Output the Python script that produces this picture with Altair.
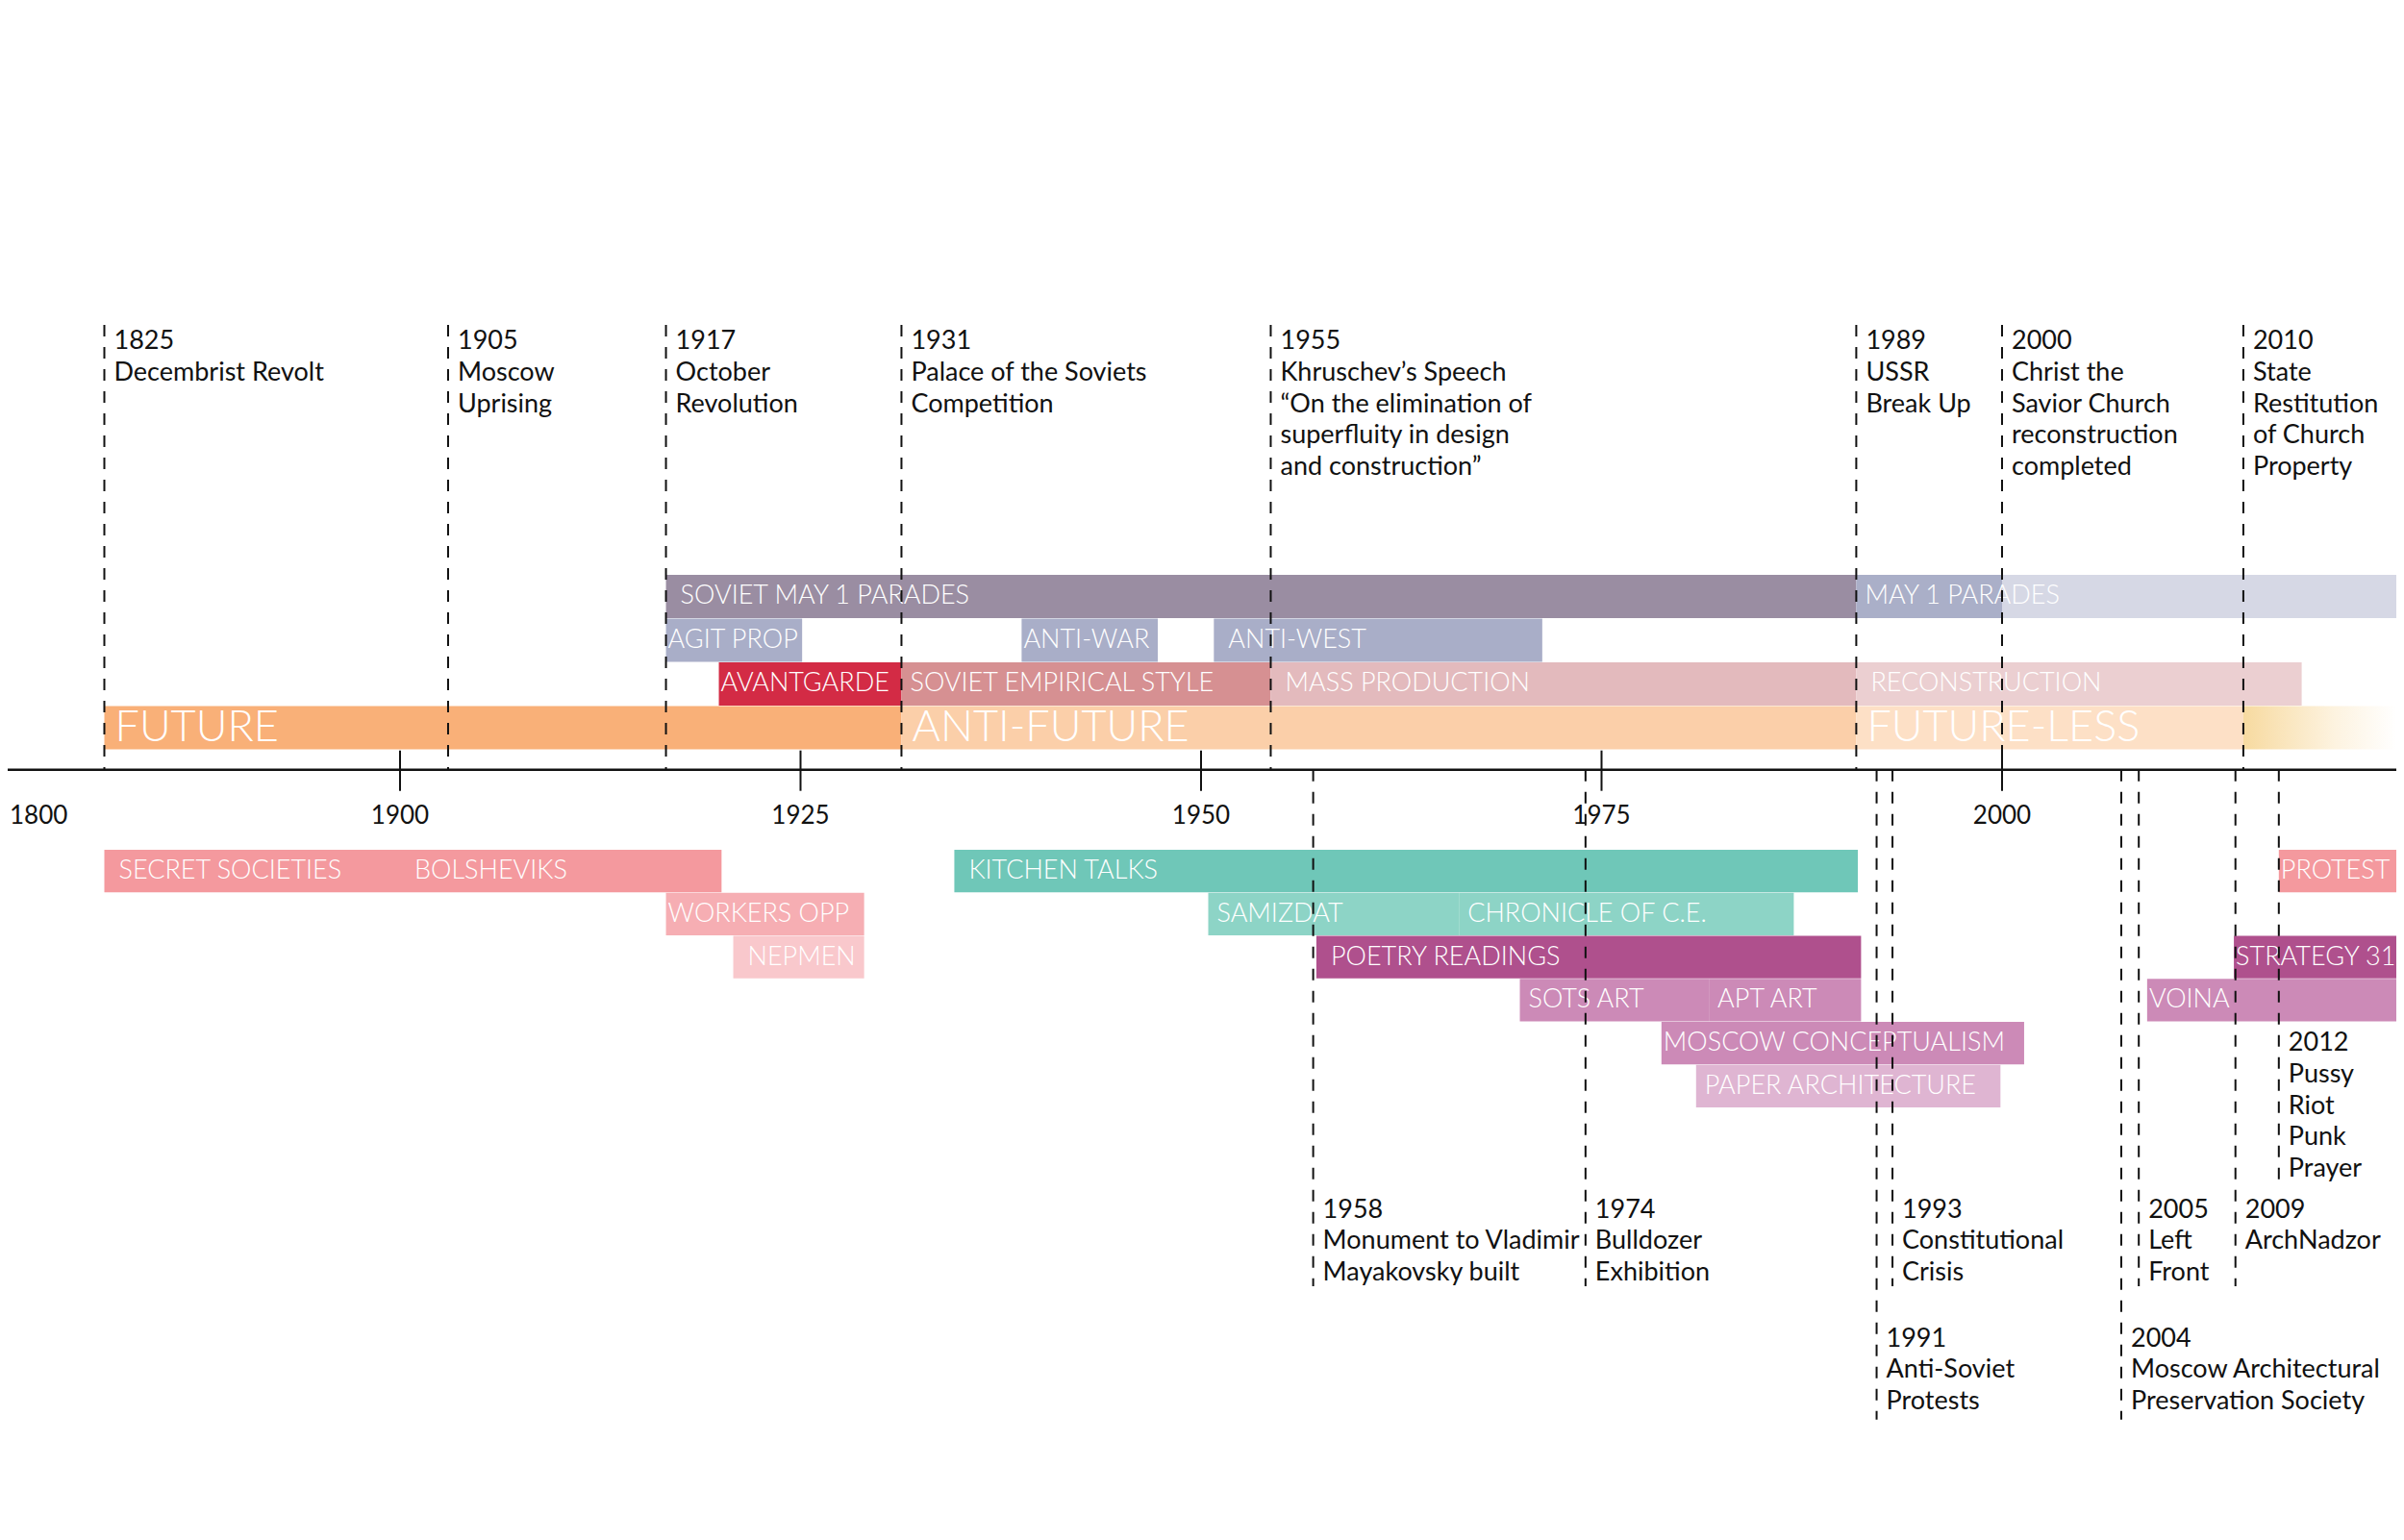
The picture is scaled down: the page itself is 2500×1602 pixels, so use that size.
import altair as alt
import pandas as pd

# ---------------- data (x values are positions on the chart's year axis) ----------------
# bars above the axis, lane 1 = next to the axis
up_label = ["SOVIET MAY 1 PARADES", "MAY 1 PARADES", "", "AGIT PROP", "ANTI-WAR", "ANTI-WEST",
            "AVANTGARDE", "SOVIET EMPIRICAL STYLE", "MASS PRODUCTION", "RECONSTRUCTION",
            "FUTURE", "ANTI-FUTURE", "FUTURE-LESS"]
up_start = [1916.6, 1990.9, 2000.0, 1916.6, 1938.8, 1950.8,
            1919.9, 1931.3, 1954.35, 1990.9,
            1825.0, 1931.3, 1990.9]
up_end = [1990.9, 2000.0, 2025.0, 1925.1, 1947.3, 1971.3,
          1931.3, 1954.35, 1990.9, 2019.0,
          1931.3, 1990.9, 2015.3]
up_lane = [4, 4, 4, 3, 3, 3, 2, 2, 2, 2, 1, 1, 1]
up_group = ["parades", "parades_late", "parades_now", "propaganda", "propaganda", "propaganda",
            "avantgarde", "empire", "mass", "reconstruction",
            "future", "antifuture", "futureless"]

# fading tail of the FUTURE row
tail_start = [2015.3]
tail_end = [2025.0]

# bars below the axis, lane 1 = next to the axis
dn_label = ["SECRET SOCIETIES", "BOLSHEVIKS", "KITCHEN TALKS", "PROTEST",
            "WORKERS OPP", "SAMIZDAT", "CHRONICLE OF C.E.",
            "NEPMEN", "POETRY READINGS", "STRATEGY 31",
            "SOTS ART", "APT ART", "VOINA",
            "MOSCOW CONCEPTUALISM", "PAPER ARCHITECTURE"]
dn_start = [1825.0, 1900.0, 1934.6, 2017.55,
            1916.6, 1950.45, 1966.1,
            1920.8, 1957.2, 2014.7,
            1969.9, 1981.7, 2009.2,
            1978.74, 1980.9]
dn_end = [1900.0, 1920.07, 1991.0, 2025.0,
          1928.97, 1966.1, 1987.0,
          1928.97, 1991.2, 2025.0,
          1981.7, 1991.2, 2025.0,
          2001.4, 1999.9]
dn_lane = [1, 1, 1, 1, 2, 2, 2, 3, 3, 3, 4, 4, 4, 5, 6]
dn_group = ["dissent", "dissent", "kitchen", "dissent",
            "workers", "samizdat", "samizdat",
            "nepmen", "poetry", "poetry",
            "art", "art", "art",
            "art", "paper"]

# events above the axis
top_pos = [1825.0, 1903.0, 1916.6, 1931.3, 1954.35, 1990.9, 2000.0, 2015.3]
top_text = ["1825\nDecembrist Revolt",
            "1905\nMoscow\nUprising",
            "1917\nOctober\nRevolution",
            "1931\nPalace of the Soviets\nCompetition",
            "1955\nKhruschev\u2019s Speech\n\u201cOn the elimination of\nsuperfluity in design\nand construction\u201d",
            "1989\nUSSR\nBreak Up",
            "2000\nChrist the\nSavior Church\nreconstruction\ncompleted",
            "2010\nState\nRestitution\nof Church\nProperty"]

# events below the axis (tier: how far down the label sits)
bot_pos = [1957.0, 1974.0, 1992.17, 1993.16, 2007.56, 2008.67, 2014.8, 2017.55]
bot_text = ["1958\nMonument to Vladimir\nMayakovsky built",
            "1974\nBulldozer\nExhibition",
            "1991\nAnti-Soviet\nProtests",
            "1993\nConstitutional\nCrisis",
            "2004\nMoscow Architectural\nPreservation Society",
            "2005\nLeft\nFront",
            "2009\nArchNadzor",
            "2012\nPussy\nRiot\nPunk\nPrayer"]
bot_tier = [1, 1, 2, 1, 2, 1, 1, 0]

# axis
tick_years = [1900, 1925, 1950, 1975, 2000]
tick_text = ["1900", "1925", "1950", "1975", "2000"]
first_year = [1800]
first_text = ["1800"]

# ---------------- styles / layout ----------------
groups = ["parades", "parades_late", "parades_now", "propaganda", "avantgarde", "empire", "mass",
          "reconstruction", "future", "antifuture", "futureless", "dissent", "workers", "nepmen",
          "kitchen", "samizdat", "poetry", "art", "paper"]
colors = ["#9a8da2", "#aaafc8", "#d6d8e5", "#a9aec8", "#d32b45", "#d69092", "#e3babd",
          "#ebcfd1", "#f9b078", "#fbcfa9", "#fde0c6", "#f4999e", "#f6aeb3", "#f9c8cc",
          "#6fc7b8", "#8dd4c6", "#af508d", "#cc8ab7", "#dfb5d2"]

# how far each bar label sits from the bar's start
TIGHT = ["AGIT PROP", "ANTI-WAR", "AVANTGARDE", "MOSCOW CONCEPTUALISM", "VOINA",
         "WORKERS OPP", "PROTEST", "STRATEGY 31"]
MID = ["MAY 1 PARADES", "SOVIET EMPIRICAL STYLE", "SAMIZDAT", "CHRONICLE OF C.E.",
       "SOTS ART", "APT ART", "PAPER ARCHITECTURE"]
PAD = {"tight": 2, "mid": 9, "wide": 15}

W, H = 2484, 1590
AXIS_Y = 792.7
UP_BASE, UP_PITCH = 772.0, 45.5
DN_BASE, DN_PITCH = 876.0, 44.75
GAP = 0.6
TOP_LINE_Y = 330.0
TOP_TEXT_Y = 355.3
TIER = {0: (1218.7, 1085.3), 1: (1330.0, 1258.7), 2: (1468.7, 1392.7)}
FONT = "Lato"

X = alt.Scale(domain=[1800, 1900, 2000, 2025], range=[-2, 408, 2074, 2484], nice=False, zero=False)
Y = alt.Scale(domain=[0, H], range=[0, H], nice=False, zero=False)


def xenc(field):
    return alt.X(field, type="quantitative", scale=X, axis=None)


def yenc(field):
    return alt.Y(field, type="quantitative", scale=Y, axis=None)


# ---------------- tables ----------------
up = pd.DataFrame({"label": up_label, "start": up_start, "end": up_end,
                   "lane": up_lane, "group": up_group})
up["y0"] = UP_BASE - up["lane"] * UP_PITCH
up["y1"] = UP_BASE - (up["lane"] - 1) * UP_PITCH - GAP
up["big"] = up["lane"] == 1

dn = pd.DataFrame({"label": dn_label, "start": dn_start, "end": dn_end,
                   "lane": dn_lane, "group": dn_group})
dn["y0"] = DN_BASE + (dn["lane"] - 1) * DN_PITCH
dn["y1"] = dn["y0"] + DN_PITCH - GAP
dn["big"] = False

bars = pd.concat([up, dn], ignore_index=True)
bars["mid"] = (bars["y0"] + bars["y1"]) / 2
bars["ty"] = bars["mid"] + bars["big"].map({True: 14.0, False: 8.0})
bars["padcls"] = bars["label"].map(
    lambda s: "tight" if s in TIGHT else ("mid" if s in MID else "wide"))

tail = pd.DataFrame({"start": tail_start, "end": tail_end})
tail["y0"] = UP_BASE - UP_PITCH
tail["y1"] = UP_BASE - GAP

top_ev = pd.DataFrame({"pos": top_pos, "text": top_text})
top_ev["ya"] = TOP_LINE_Y
top_ev["yb"] = AXIS_Y
top_ev["ty"] = TOP_TEXT_Y

bot_ev = pd.DataFrame({"pos": bot_pos, "text": bot_text, "tier": bot_tier})
bot_ev["ya"] = AXIS_Y
bot_ev["yb"] = bot_ev["tier"].map(lambda t: TIER[t][0])
bot_ev["ty"] = bot_ev["tier"].map(lambda t: TIER[t][1])

events = pd.concat([top_ev, bot_ev[["pos", "text", "ya", "yb", "ty"]]], ignore_index=True)

axis_df = pd.DataFrame({"a": [1800], "b": [2025], "y": [AXIS_Y]})
ticks = pd.DataFrame({"year": tick_years, "text": tick_text})
ticks["ya"] = AXIS_Y - 20
ticks["yb"] = AXIS_Y + 22
ticks["ty"] = AXIS_Y + 56.6
first = pd.DataFrame({"year": first_year, "text": first_text})
first["ty"] = AXIS_Y + 56.6

# ---------------- layers ----------------
rects = alt.Chart(bars).mark_rect().encode(
    x=xenc("start"), x2="end", y=yenc("y0"), y2="y1",
    color=alt.Color("group:N", scale=alt.Scale(domain=groups, range=colors), legend=None),
)

grad = alt.Chart(tail).mark_rect(
    color=alt.LinearGradient(
        gradient="linear",
        stops=[alt.GradientStop(color="#f7daa0", offset=0),
               alt.GradientStop(color="#fdf3e0", offset=0.6),
               alt.GradientStop(color="#ffffff", offset=1)],
        x1=0, x2=1, y1=0, y2=0)
).encode(x=xenc("start"), x2="end", y=yenc("y0"), y2="y1")

small_layers = []
for cls, pad in PAD.items():
    sub = bars[(~bars["big"]) & (bars["padcls"] == cls)]
    small_layers.append(
        alt.Chart(sub).mark_text(
            align="left", baseline="alphabetic", dx=pad, font=FONT, fontSize=27,
            fontWeight=300, color="white"
        ).encode(x=xenc("start"), y=yenc("ty"), text="label:N")
    )

big_lbl = alt.Chart(bars[bars["big"]]).mark_text(
    align="left", baseline="alphabetic", dx=11, font=FONT, fontSize=45,
    fontWeight=300, color="white"
).encode(x=xenc("start"), y=yenc("ty"), text="label:N")

dashes = alt.Chart(events).mark_rule(
    color="#111111", strokeWidth=2, strokeDash=[12, 11]
).encode(x=xenc("pos"), y=yenc("ya"), y2="yb")

axis_line = alt.Chart(axis_df).mark_rule(color="#111111", strokeWidth=2.4).encode(
    x=xenc("a"), x2="b", y=yenc("y"))

tick_rules = alt.Chart(ticks).mark_rule(color="#111111", strokeWidth=2).encode(
    x=xenc("year"), y=yenc("ya"), y2="yb")

tick_lbl = alt.Chart(ticks).mark_text(
    align="center", baseline="alphabetic", font=FONT, fontSize=26, color="#111111"
).encode(x=xenc("year"), y=yenc("ty"), text="text:N")

first_lbl = alt.Chart(first).mark_text(
    align="left", baseline="alphabetic", dx=4, font=FONT, fontSize=26, color="#111111"
).encode(x=xenc("year"), y=yenc("ty"), text="text:N")

ev_lbl = alt.Chart(events).mark_text(
    align="left", baseline="alphabetic", dx=10, lineBreak="\n", lineHeight=32.7,
    font=FONT, fontSize=27, color="#111111"
).encode(x=xenc("pos"), y=yenc("ty"), text="text:N")

chart = alt.layer(
    rects, grad, *small_layers, big_lbl, dashes, axis_line, tick_rules, tick_lbl, first_lbl, ev_lbl
).properties(
    width=W, height=H, padding=0, background="white",
    autosize=alt.AutoSizeParams(type="none")
).configure_view(stroke=None)

chart.save("out.html", embed_options={"renderer": "svg", "actions": False})
